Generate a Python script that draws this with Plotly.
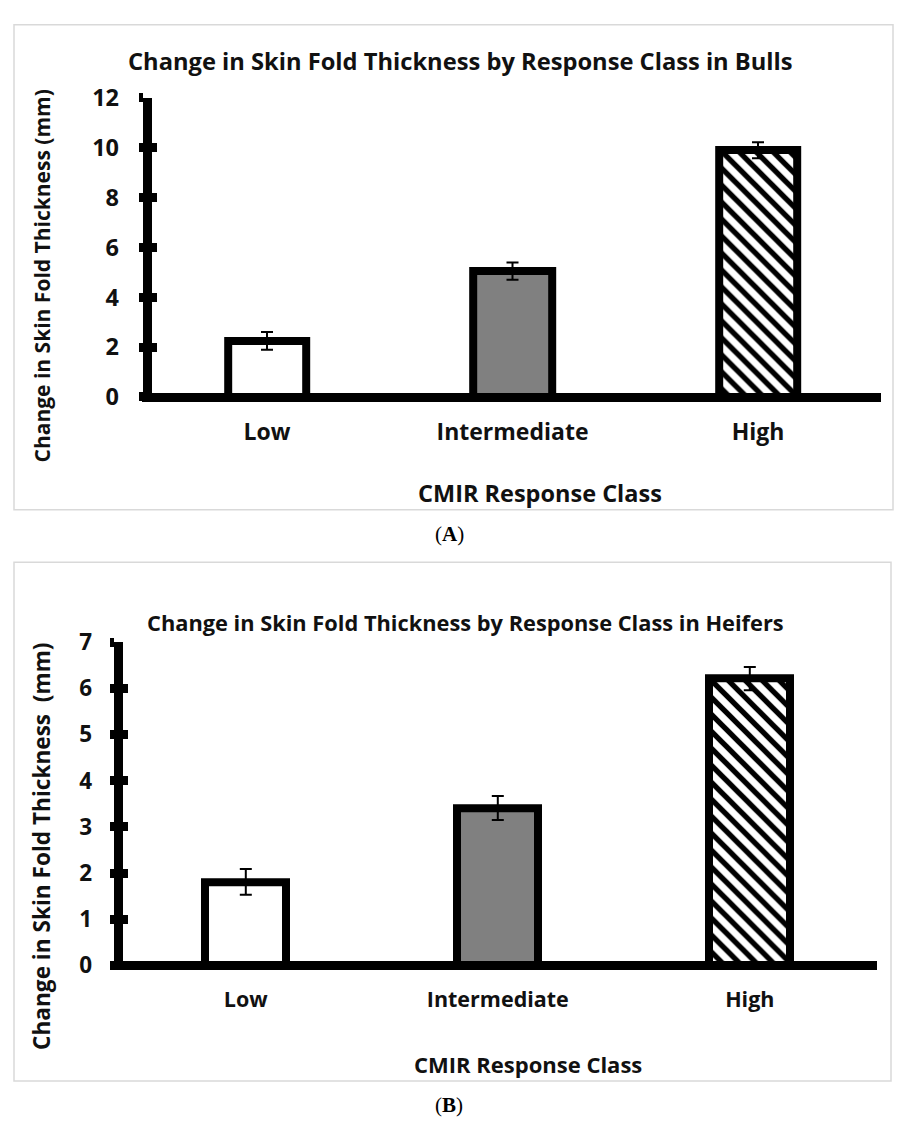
import plotly.graph_objects as go

# ---------------- data ----------------
categories = ["Low", "Intermediate", "High"]
bulls_values = [2.25, 5.05, 9.9]
bulls_errors = [0.36, 0.35, 0.32]
heifers_values = [1.81, 3.41, 6.21]
heifers_errors = [0.28, 0.26, 0.25]
bulls_yticks = [0, 2, 4, 6, 8, 10, 12]
heifers_yticks = [0, 1, 2, 3, 4, 5, 6, 7]
title_a = "Change in Skin Fold Thickness by Response Class in Bulls"
title_b = "Change in Skin Fold Thickness by Response Class in Heifers"
ylabel_a = "Change in Skin Fold Thickness (mm)"
ylabel_b = "Change in Skin Fold Thickness  (mm)"
xlabel = "CMIR Response Class"

W, H = 898, 1133
FONT = "Open Sans"
LW = 9
INK = "#111111"


def px(x):
    return x / W


def py(y):
    return 1 - y / H


def font(size, weight="bold", family=FONT, color=INK):
    return dict(family=family, size=size, color=color, weight=weight)


fig = go.Figure()


def add_bars(values, errors, xa, ya, ya_overlay):
    plain_vals = [values[0], values[1], None]
    plain_err = [errors[0], errors[1], 0]
    fig.add_trace(go.Bar(
        x=categories, y=plain_vals, width=0.32, xaxis=xa, yaxis=ya,
        marker=dict(color=["white", "#808080", "white"],
                    line=dict(color="black", width=8)),
        error_y=dict(type="data", array=plain_err, color="black", thickness=2, width=6),
        showlegend=False, hoverinfo="skip",
    ))
    fig.add_trace(go.Bar(
        x=[categories[2]], y=[values[2]], width=0.32, xaxis=xa, yaxis=ya,
        marker=dict(color="white", line=dict(color="black", width=8),
                    pattern=dict(shape="\\", fgcolor="black", bgcolor="white",
                                 fgopacity=1, fillmode="replace",
                                 size=12, solidity=0.45)),
        error_y=dict(type="data", array=[errors[2]], color="black", thickness=2, width=6),
        showlegend=False, hoverinfo="skip",
    ))
    # invisible trace so the overlay (inner tick) axis is drawn
    fig.add_trace(go.Scatter(x=categories, y=[None, None, None], xaxis=xa, yaxis=ya_overlay,
                             mode="markers", showlegend=False, hoverinfo="skip"))


add_bars(bulls_values, bulls_errors, "x", "y", "y3")
add_bars(heifers_values, heifers_errors, "x2", "y2", "y4")

# Panel A geometry (pixels)
A_x0, A_x1, A_y0, A_ytop = 146.7, 880.7, 391.0, 83.3
A_c0, A_sp = 267.0, 245.5
# Panel B geometry
B_x0, B_x1, B_y0, B_ytop = 117.5, 876.7, 976.0, 643.3
B_c0, B_sp = 245.8, 252.0


def xaxis_cfg(x0, x1, c0, sp, y0, fsize, standoff):
    left = x0 - LW / 2
    return dict(
        domain=[px(left), px(x1)],
        range=[(left - c0) / sp, 2 + (x1 - (c0 + 2 * sp)) / sp],
        anchor="free", position=py(y0),
        showline=True, linecolor="black", linewidth=LW,
        showgrid=False, zeroline=False, ticks="",
        tickfont=font(fsize), ticklabelstandoff=standoff,
        fixedrange=True,
    )


def yaxis_cfg(x0, y0, ytop, ymax, tickvals, standoff, fsize):
    return dict(
        domain=[py(y0), py(ytop)], range=[0, ymax],
        anchor="free", position=px(x0),
        showline=True, linecolor="black", linewidth=LW,
        showgrid=False, zeroline=False,
        ticks="outside", ticklen=4, tickwidth=9, tickcolor="black",
        tickvals=tickvals, tickfont=font(fsize), ticklabelstandoff=standoff,
        fixedrange=True,
    )


def yaxis_overlay(x0, y0, ytop, ymax, tickvals, over):
    return dict(
        domain=[py(y0), py(ytop)], range=[0, ymax],
        anchor="free", position=px(x0), overlaying=over,
        showline=False, showgrid=False, zeroline=False,
        ticks="inside", ticklen=9, tickwidth=9, tickcolor="black",
        tickvals=tickvals, showticklabels=False, fixedrange=True,
    )


fig.update_layout(
    width=W, height=H, autosize=False,
    margin=dict(l=0, r=0, t=0, b=0, pad=0),
    paper_bgcolor="white", plot_bgcolor="rgba(0,0,0,0)",
    barmode="overlay", bargap=0,
    xaxis=xaxis_cfg(A_x0, A_x1, A_c0, A_sp, A_y0, 23, 10),
    yaxis=yaxis_cfg(A_x0, A_y0, A_ytop, 12, bulls_yticks, 15, 23.5),
    xaxis2=xaxis_cfg(B_x0, B_x1, B_c0, B_sp, B_y0, 21.5, 11),
    yaxis2=yaxis_cfg(B_x0, B_y0, B_ytop, 7, heifers_yticks, 13, 22.5),
    yaxis3=yaxis_overlay(A_x0, A_y0, A_ytop, 12, bulls_yticks, "y"),
    yaxis4=yaxis_overlay(B_x0, B_y0, B_ytop, 7, heifers_yticks, "y2"),
)

# panel frames
for (x0, y0, x1, y1) in [(14, 8, 893, 507), (14, 561, 891, 1095)]:
    fig.add_shape(type="rect", xref="paper", yref="paper",
                  x0=px(x0), x1=px(x1), y0=py(y1), y1=py(y0),
                  line=dict(color="#d9d9d9", width=1.5), layer="below")

ann = [
    (460, 45, title_a, 0, font(23.7)),
    (465, 623, title_b, 0, font(21.8)),
    (42, 267, ylabel_a, -90, font(21)),
    (42, 854, ylabel_b, -90, font(22.6)),
    (540, 490, xlabel, 0, font(23.5)),
    (528, 1077, xlabel, 0, font(22)),
    (449, 532, "(<b>A</b>)", 0, font(21, "normal", "Liberation Serif", "black")),
    (449, 1120, "(<b>B</b>)", 0, font(21, "normal", "Liberation Serif", "black")),
]
for x, y, t, ang, f in ann:
    fig.add_annotation(x=px(x), y=py(y), xref="paper", yref="paper", text=t,
                       showarrow=False, textangle=ang, font=f,
                       xanchor="center", yanchor="middle")

# pin the figure to the top-left corner of the page (no body margin / scrollbars)
post = """
var gd = document.getElementById('{plot_id}');
document.documentElement.style.margin = '0';
document.documentElement.style.padding = '0';
document.body.style.margin = '0';
document.body.style.padding = '0';
document.documentElement.style.overflow = 'hidden';
document.body.style.overflow = 'hidden';
gd.style.position = 'fixed';
gd.style.left = '0px';
gd.style.top = '0px';
"""

fig.write_html("out.html", config={"displayModeBar": False}, post_script=post)
